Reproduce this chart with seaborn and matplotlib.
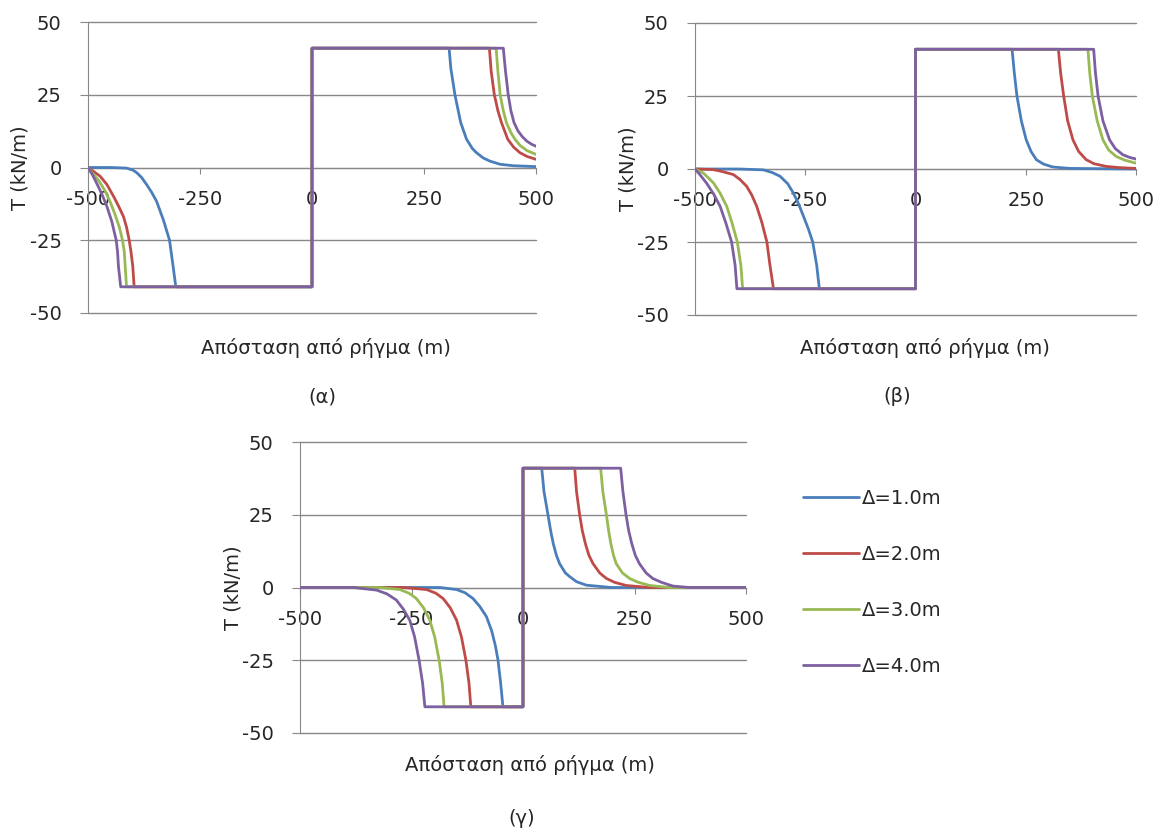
import pandas as pd
import matplotlib
matplotlib.use('Agg')
import matplotlib.pyplot as plt
import seaborn as sns

sns.set_style('white')
plt.rcParams['font.family'] = ['DejaVu Sans']
plt.rcParams['axes.unicode_minus'] = False

labels = ['Δ=1.0m', 'Δ=2.0m', 'Δ=3.0m', 'Δ=4.0m']
colors = ['#4A7EBB', '#BE4B48', '#98B954', '#7D60A0']
x_ticks = [-500, -250, 0, 250, 500]
y_ticks = [-50, -25, 0, 25, 50]

# (α)
a1_x = [-500, -450, -414, -400, -391, -380, -369, -358, -347, -332, -318, -310, -304, 0, 0,
        306, 310, 319, 332, 345, 358, 367, 382, 397, 420, 450, 500]
a1_t = [0, 0, -0.2, -0.9, -1.8, -3.5, -5.9, -8.5, -11.6, -17.9, -25, -34, -41, -41, 41,
        41, 34, 25, 15.4, 9.7, 6.5, 5.1, 3.3, 2.2, 1.1, 0.6, 0.3]
a2_x = [-500, -488, -473, -458, -443, -432, -421, -414, -408, -404, -400, -397, 0, 0,
        396, 400, 407, 415, 423, 437, 450, 464, 480, 500]
a2_t = [0, -1.3, -3, -5.8, -9.9, -13.2, -16.8, -20.5, -25, -29, -34, -41, -41, 41,
        41, 33, 25, 19.5, 15.4, 9.7, 7, 5.1, 3.8, 2.8]
a3_x = [-500, -490, -476, -462, -450, -440, -430, -423, -419, -417, -414, 0, 0,
        411, 415, 420, 427, 434, 444, 453, 465, 480, 500]
a3_t = [0, -2, -4.5, -8, -12, -16, -20.5, -25, -29, -34, -41, -41, 41,
        41, 33, 25, 19.5, 15.4, 12, 9.7, 7.5, 5.8, 4.5]
a4_x = [-500, -490, -481, -470, -458, -447, -437, -434, -432, -427, 0, 0,
        427, 432, 438, 444, 451, 460, 470, 480, 490, 500]
a4_t = [0, -2.5, -5.3, -8.8, -13.3, -18.5, -25, -29, -34, -41, -41, 41,
        41, 33, 25, 19.5, 15.4, 12.5, 10.5, 9, 8, 7.3]

# (β)
b1_x = [-500, -400, -345, -325, -307, -290, -277, -265, -254, -243, -233, -224, -218, 0, 0,
        219, 224, 230, 240, 251, 262, 274, 290, 311, 350, 500]
b1_t = [0, 0, -0.3, -1.2, -2.5, -5, -8.2, -12, -16.2, -20.5, -25, -33, -41, -41, 41,
        41, 33, 25, 16.5, 10, 6, 3.2, 1.7, 0.7, 0.2, 0]
b2_x = [-500, -459, -440, -413, -398, -383, -371, -360, -348, -337, -330, -322, 0, 0,
        324, 329, 336, 345, 357, 370, 387, 405, 432, 460, 500]
b2_t = [0, -0.2, -0.8, -1.9, -3.6, -5.9, -9, -12.8, -18.5, -25, -33, -41, -41, 41,
        41, 33, 25, 16.5, 10, 6, 3.2, 1.8, 0.9, 0.5, 0.2]
b3_x = [-500, -481, -470, -458, -443, -428, -416, -404, -396, -392, 0, 0,
        391, 395, 401, 412, 425, 438, 455, 475, 500]
b3_t = [0, -1.4, -3, -4.8, -8.3, -12.8, -18.5, -25, -33, -41, -41, 41,
        41, 33, 25, 16.5, 10, 6.5, 4.3, 3, 2]
b4_x = [-500, -489, -474, -458, -443, -430, -417, -409, -405, 0, 0,
        404, 408, 414, 425, 440, 453, 470, 485, 500]
b4_t = [0, -1.9, -4.8, -8.5, -12.8, -18.5, -25, -33, -41, -41, 41,
        41, 33, 25, 16.5, 10, 7, 4.9, 4, 3.4]

# (γ)
c1_x = [-500, -186, -149, -130, -112, -97, -82, -70, -62, -56, -50, -45, 0, 0,
        42, 47, 56, 62, 68, 75, 82, 95, 105, 120, 142, 198, 500]
c1_t = [0, 0, -0.7, -1.8, -3.8, -6.5, -10, -15, -20, -25, -33, -41, -41, 41,
        41, 33, 25, 19.5, 15, 11, 8.2, 5, 3.7, 2, 0.8, 0, 0]
c2_x = [-500, -269, -216, -195, -179, -163, -149, -138, -128, -121, -117, 0, 0,
        116, 120, 127, 133, 140, 148, 157, 172, 187, 205, 231, 283, 500]
c2_t = [0, 0, -0.7, -2, -3.8, -7, -11.2, -17, -25, -33, -41, -41, 41,
        41, 33, 25, 19.5, 15, 11, 8.2, 5, 3.1, 1.8, 0.7, 0, 0]
c3_x = [-500, -321, -276, -255, -239, -223, -209, -198, -188, -181, -177, 0, 0,
        174, 179, 187, 192, 197, 203, 209, 223, 239, 258, 284, 328, 500]
c3_t = [0, 0, -0.7, -2, -3.8, -7, -11.2, -17, -25, -33, -41, -41, 41,
        41, 33, 25, 19.5, 15, 11, 8.2, 5, 3.1, 1.8, 0.7, 0, 0]
c4_x = [-500, -380, -328, -305, -284, -268, -254, -243, -233, -225, -220, 0, 0,
        219, 224, 231, 237, 244, 252, 261, 276, 291, 310, 336, 373, 500]
c4_t = [0, 0, -0.9, -2.2, -4.3, -7.5, -11.2, -17, -25, -33, -41, -41, 41,
        41, 33, 25, 19.5, 15, 11, 8.2, 5, 3.1, 1.8, 0.5, 0, 0]

panels = {
    'a': [(a1_x, a1_t), (a2_x, a2_t), (a3_x, a3_t), (a4_x, a4_t)],
    'b': [(b1_x, b1_t), (b2_x, b2_t), (b3_x, b3_t), (b4_x, b4_t)],
    'c': [(c1_x, c1_t), (c2_x, c2_t), (c3_x, c3_t), (c4_x, c4_t)],
}

W, H = 1167, 834
fs = 14
grid_c = '#888888'

fig = plt.figure(figsize=(W / 100, H / 100), dpi=100)

# axes boxes in pixels: left, top, right, bottom
boxes = {'a': (88, 22, 536, 313), 'b': (695, 23, 1136, 315), 'c': (300, 442, 746, 733)}
axes = {}
for key, (l, t, r, b) in boxes.items():
    ax = fig.add_axes([l / W, 1 - b / H, (r - l) / W, (b - t) / H])
    frames = []
    for lab, (xs, ts) in zip(labels, panels[key]):
        frames.append(pd.DataFrame({'x': xs, 'T': ts, 'series': lab}))
    df = pd.concat(frames, ignore_index=True)
    sns.lineplot(data=df, x='x', y='T', hue='series', hue_order=labels, palette=colors,
                 sort=False, estimator=None, linewidth=2.0, ax=ax, legend=(key == 'c'))

    ax.set_xlim(-500, 500)
    ax.set_ylim(-50, 50)
    ax.set_xticks(x_ticks)
    ax.set_yticks(y_ticks)
    ax.set_axisbelow(True)
    ax.yaxis.grid(True, color=grid_c, linewidth=1)
    ax.xaxis.grid(False)
    for gl in ax.get_ygridlines():
        gl.set_clip_on(False)
    ax.spines['top'].set_visible(False)
    ax.spines['right'].set_visible(False)
    ax.spines['bottom'].set_position(('data', 0))
    for s in ['left', 'bottom']:
        ax.spines[s].set_color(grid_c)
        ax.spines[s].set_zorder(0.6)
    ax.tick_params(axis='y', direction='out', length=6, color=grid_c, pad=13, labelsize=fs,
                   left=True)
    ax.tick_params(axis='x', direction='out', length=4, color=grid_c, pad=12, labelsize=fs,
                   bottom=True)
    ax.set_xlabel('')
    ax.set_ylabel('T (kN/m)', fontsize=fs)
    ax.yaxis.set_label_coords(-58 / (r - l), 0.5)
    axes[key] = ax

# legend to the right of (γ)
handles, labs = axes['c'].get_legend_handles_labels()
axes['c'].get_legend().remove()
leg = fig.legend(handles, labs, loc='upper left', bbox_to_anchor=(803 / W, 1 - 489 / H),
                 frameon=False, fontsize=fs, handlelength=2.9, handletextpad=0.15,
                 labelspacing=1.9, borderpad=0, borderaxespad=0)
for h in leg.get_lines():
    h.set_linewidth(2.0)

xlab = 'Απόσταση από ρήγμα (m)'
fig.text(326 / W, 1 - 348 / H, xlab, ha='center', va='center', fontsize=fs)
fig.text(925 / W, 1 - 348 / H, xlab, ha='center', va='center', fontsize=fs)
fig.text(530 / W, 1 - 765 / H, xlab, ha='center', va='center', fontsize=fs)

fig.text(322 / W, 1 - 397 / H, '(α)', ha='center', va='center', fontsize=fs)
fig.text(897 / W, 1 - 397 / H, '(β)', ha='center', va='center', fontsize=fs)
fig.text(522 / W, 1 - 818 / H, '(γ)', ha='center', va='center', fontsize=fs)

fig.savefig('out.png', dpi=100)
